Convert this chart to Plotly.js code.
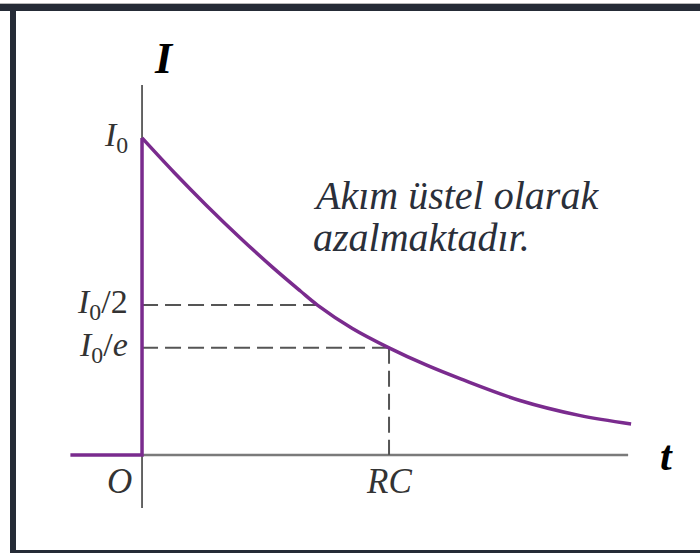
<!DOCTYPE html>
<html>
<head>
<meta charset="utf-8">
<script src="https://cdn.plot.ly/plotly-3.0.1.min.js"></script>
<style>html,body{margin:0;padding:0;background:#fff;}#chart{width:700px;height:553px;}</style>
</head>
<body>
<div id="chart"></div>
<script>
// Data (t in units of RC, I in units of I0)
const stepT = [-0.29, 0, 0];
const stepI = [0, 0, 1];
const curveT = [0, 0.13, 0.26, 0.40, 0.53, 0.64, 0.71, 0.85, 1.0, 1.15, 1.29, 1.53, 1.77, 1.98];
const curveI = [1.0, 0.891, 0.788, 0.683, 0.591, 0.518, 0.473, 0.400, 0.338, 0.284, 0.240, 0.172, 0.125, 0.098];
const yTickVals = [1, 0.473, 0.338];
const yTickText = ['<i>I</i><sub>0</sub>', '<i>I</i><sub>0</sub>/2', '<i>I</i><sub>0</sub>/<i>e</i>'];
const xTickVals = [0, 1];
const xTickText = ['O', 'RC'];
const halfPoint = [0.71, 0.473];
const ePoint = [1.0, 0.338];
const noteLines = ['Akım üstel olarak', 'azalmaktadır.'];
const axisTitleY = 'I';
const axisTitleX = 't';

const purple = '#7a2b8e';
const dashCol = '#555555';
const serif = 'Liberation Serif, Times New Roman, serif';

const traces = [
  {x: [0, halfPoint[0]], y: [halfPoint[1], halfPoint[1]], mode: 'lines', line: {color: dashCol, width: 2, dash: '16px,7px'}, hoverinfo: 'skip'},
  {x: [0, ePoint[0]], y: [ePoint[1], ePoint[1]], mode: 'lines', line: {color: dashCol, width: 2, dash: '16px,7px'}, hoverinfo: 'skip'},
  {x: [ePoint[0], ePoint[0]], y: [ePoint[1], 0], mode: 'lines', line: {color: dashCol, width: 2, dash: '16px,7px'}, hoverinfo: 'skip'},
  {x: stepT, y: stepI, mode: 'lines', line: {color: purple, width: 3.5}, hoverinfo: 'skip'},
  {x: curveT, y: curveI, mode: 'lines', line: {color: purple, width: 3.5, shape: 'spline', smoothing: 1}, hoverinfo: 'skip'}
];

const shapes = [
  // axes
  {type: 'line', xref: 'x', yref: 'y', x0: 0, x1: 0, y0: -0.167, y1: 1.167, line: {color: '#333', width: 1.5}, layer: 'below'},
  {type: 'line', xref: 'x', yref: 'y', x0: 0, x1: 1.968, y0: 0, y1: 0, line: {color: '#7a7a7a', width: 2.5}, layer: 'below'},
  // frame
  {type: 'rect', xref: 'paper', yref: 'paper', x0: 0, x1: 1, y0: 1 - 4/553, y1: 1 - 11/553, fillcolor: '#252b36', line: {width: 0}},
  {type: 'rect', xref: 'paper', yref: 'paper', x0: 0, x1: 1, y0: 1 - 3/553, y1: 1 - 4/553, fillcolor: '#b8b8b8', line: {width: 0}},
  {type: 'rect', xref: 'paper', yref: 'paper', x0: 10/700, x1: 16/700, y0: 0, y1: 1 - 4/553, fillcolor: '#252b36', line: {width: 0}},
  {type: 'rect', xref: 'paper', yref: 'paper', x0: 10/700, x1: 1, y0: 0, y1: 3/553, fillcolor: '#252b36', line: {width: 0}}
];

const annotations = [];
yTickVals.forEach((v, i) => {
  annotations.push({x: 0, y: v, xref: 'x', yref: 'y', text: yTickText[i], showarrow: false,
    xanchor: 'right', yanchor: 'middle', xshift: -12, yshift: 1, font: {family: serif, size: 34, color: '#333'}});
});
xTickVals.forEach((v, i) => {
  annotations.push({x: v, y: 0, xref: 'x', yref: 'y', text: '<i>' + xTickText[i] + '</i>', showarrow: false,
    xanchor: i === 0 ? 'right' : 'center', yanchor: 'top', xshift: i === 0 ? -8 : 0, yshift: -5,
    font: {family: serif, size: 35, color: '#333'}});
});
annotations.push({x: 0, y: 1.25, xref: 'x', yref: 'y', text: '<b><i>' + axisTitleY + '</i></b>', showarrow: false,
  xanchor: 'left', yanchor: 'middle', xshift: 10, font: {family: serif, size: 44, color: '#000'}});
annotations.push({x: 1.98, y: 0, xref: 'x', yref: 'y', text: '<b><i>' + axisTitleX + '</i></b>', showarrow: false,
  xanchor: 'left', yanchor: 'middle', xshift: 27, yshift: -1, font: {family: serif, size: 42, color: '#000'}});
noteLines.forEach((s, i) => {
  annotations.push({x: 0.686, y: 0.82 - i * 0.133, xref: 'x', yref: 'y', text: '<i>' + s + '</i>', showarrow: false,
    xanchor: 'left', yanchor: 'middle', font: {family: serif, size: 40, color: '#2a2f3a'}});
});

const layout = {
  width: 700, height: 553,
  margin: {l: 0, r: 0, t: 0, b: 0},
  paper_bgcolor: '#ffffff', plot_bgcolor: '#ffffff',
  showlegend: false,
  xaxis: {range: [-0.575, 2.259], visible: false, fixedrange: true},
  yaxis: {range: [-0.309, 1.435], visible: false, fixedrange: true},
  shapes: shapes,
  annotations: annotations
};

Plotly.newPlot('chart', traces, layout, {displayModeBar: false, staticPlot: true});
</script>
</body>
</html>
